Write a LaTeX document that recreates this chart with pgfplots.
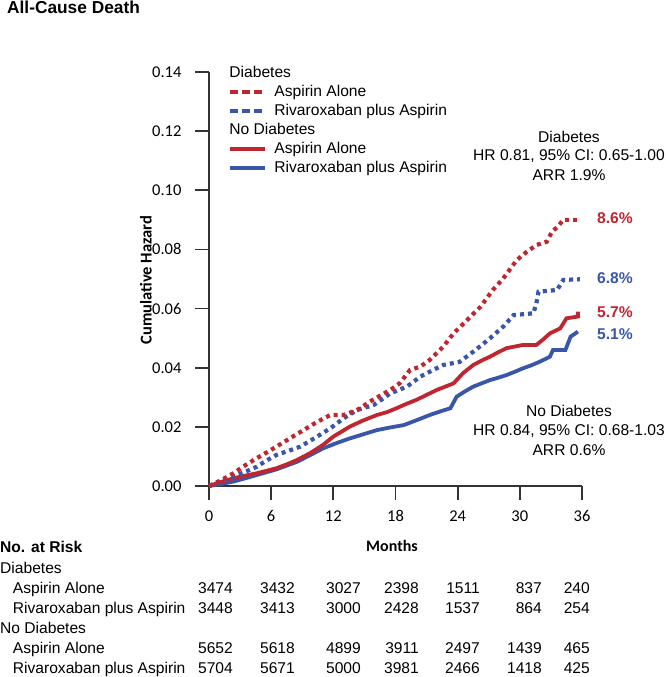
\documentclass[border=0pt]{standalone}
\usepackage{fontspec}
\setmainfont{Liberation Sans}
\newfontfamily\carlito{Carlito}
\usepackage{pgfplots}
\pgfplotsset{compat=1.18}
\usetikzlibrary{calc}
\definecolor{asared}{HTML}{BF2630}
\definecolor{rivblue}{HTML}{3A56AA}
\definecolor{axisgray}{HTML}{333333}
\newcommand{\txt}{\fontsize{15.6}{18}\selectfont}
\newcommand{\tck}{\carlito\fontsize{16.5}{18}\selectfont}

\begin{document}
\begin{tikzpicture}
\begin{axis}[
    scale only axis,
    width=373pt, height=414pt,
    xmin=0, xmax=36, ymin=0, ymax=0.14,
    axis lines=left,
    axis line style={-, axisgray, line width=1.8pt},
    xtick={0,6,12,18,24,30,36},
    ytick={0,0.02,0.04,0.06,0.08,0.10,0.12,0.14},
    tick align=outside,
    major tick length=14pt,
    tick style={axisgray, line width=1.8pt},
    scaled y ticks=false,
    tick label style={font=\tck},
    yticklabel style={xshift=-10pt, /pgf/number format/.cd, fixed, fixed zerofill,
        precision=2, assume math mode=true},
    xticklabel style={yshift=-7pt, /pgf/number format/assume math mode=true},
    clip=false,
    legend cell align=left,
    legend image code/.code={\draw[#1] (0pt,0pt) -- (35pt,0pt);},
    legend style={at={(axis cs:1.83,0.1429)}, anchor=north west,
        draw=none, fill=none, inner sep=0pt, row sep=0pt, column sep=7pt,
        font=\txt, nodes={inner sep=1pt, text height=13pt, text depth=4pt}},
]
\coordinate (O) at (axis cs:0,0);

% legend entries
\addlegendimage{empty legend}
\addlegendentry{\hspace*{-45pt}Diabetes}
\addlegendimage{asared, line width=3.3pt, dash pattern=on 8.5pt off 3.5pt}
\addlegendentry{Aspirin Alone}
\addlegendimage{rivblue, line width=3.3pt, dash pattern=on 8.5pt off 3.5pt}
\addlegendentry{Rivaroxaban plus Aspirin}
\addlegendimage{empty legend}
\addlegendentry{\hspace*{-45pt}No Diabetes}
\addlegendimage{asared, line width=3.3pt}
\addlegendentry{Aspirin Alone}
\addlegendimage{rivblue, line width=3.3pt}
\addlegendentry{Rivaroxaban plus Aspirin}

% no diabetes, rivaroxaban plus aspirin
\addplot[forget plot, rivblue, line width=3.8pt] coordinates {
(0,0) (1.2,0.0007) (2.35,0.0015) (3.5,0.0026) (4.6,0.0037) (5.5,0.0046)
(6.5,0.0056) (7.5,0.0069) (8.5,0.0082) (9.8,0.0105) (11.0,0.0127)
(12.3,0.0145) (13.6,0.0161) (14.9,0.0175) (16.2,0.0189) (17.5,0.0198)
(18.8,0.0206) (20.0,0.0222) (21.3,0.0240) (22.3,0.0252) (23.3,0.0263)
(23.9,0.0302) (24.7,0.0320) (25.5,0.0336) (26.3,0.0347) (27.1,0.0358)
(27.9,0.0366) (28.7,0.0375) (29.5,0.0386) (30.3,0.0398) (31.1,0.0408)
(31.9,0.0420) (32.9,0.0437) (33.2,0.0460) (34.4,0.0460) (34.9,0.0505)
(35.6,0.0522)
};
% no diabetes, aspirin alone
\addplot[forget plot, asared, line width=3.8pt] coordinates {
(0,0) (1.2,0.0014) (2.35,0.0026) (3.5,0.0035) (4.6,0.0043) (5.5,0.0051)
(6.5,0.0060) (7.5,0.0073) (8.5,0.0088) (9.8,0.0112) (11.0,0.0139)
(12.0,0.0167) (13.6,0.0201) (14.9,0.0222) (16.2,0.0240) (17.2,0.0250)
(18.1,0.0263) (19.0,0.0277) (20.0,0.0291) (21.0,0.0308) (22.0,0.0325)
(23.6,0.0347) (24.5,0.0381) (25.5,0.0409) (26.3,0.0424) (27.1,0.0437)
(27.9,0.0452) (28.7,0.0466) (30.3,0.0477) (31.6,0.0477) (32.3,0.0497)
(32.9,0.0516) (33.9,0.0533) (34.5,0.0567) (35.6,0.0573) (35.6,0.0590)
};
% diabetes, rivaroxaban plus aspirin
\addplot[forget plot, rivblue, line width=4.2pt, dash pattern=on 4pt off 4pt] coordinates {
(0,0) (1.2,0.0015) (2.35,0.0032) (3.5,0.0048) (4.6,0.0065) (5.5,0.0085)
(6.5,0.0105) (7.6,0.0118) (8.8,0.0133) (10.2,0.0162) (11.7,0.0195)
(13.0,0.0229) (14.3,0.0257) (15.9,0.0274) (17.5,0.0313) (19.1,0.0336)
(20.4,0.0370) (21.5,0.0390) (22.6,0.0409) (24.2,0.0420) (25.5,0.0454)
(26.3,0.0476) (27.1,0.0499) (28.4,0.0539) (29.4,0.0578) (31.3,0.0584)
(31.6,0.0618) (31.8,0.0657) (33.6,0.0663) (34.2,0.0697) (35.8,0.0699)
};
% diabetes, aspirin alone
\addplot[forget plot, asared, line width=4.2pt, dash pattern=on 4pt off 4pt] coordinates {
(0,0) (1.2,0.0020) (2.35,0.0043) (3.5,0.0070) (4.6,0.0094) (5.5,0.0112)
(6.5,0.0133) (7.8,0.0161) (9.4,0.0195) (10.5,0.0218) (11.7,0.0240)
(13.0,0.0240) (14.3,0.0257) (15.5,0.0285) (16.5,0.0305) (17.5,0.0325)
(18.4,0.0347) (19.4,0.0392) (20.4,0.0404) (21.3,0.0426) (22.6,0.0471)
(23.6,0.0516) (24.9,0.0561) (26.2,0.0606) (27.4,0.0663) (28.4,0.0702)
(29.7,0.0764) (30.6,0.0790) (31.6,0.0815) (32.6,0.0826) (33.1,0.0860)
(33.6,0.0875) (34.2,0.0900) (35.8,0.0900)
};
\end{axis}

\begin{scope}[shift={($(O)+(-209pt,486pt)$)}, x=1pt, y=-1pt]
\pgfresetboundingbox
\path[use as bounding box] (0,0) rectangle (666,677);

\node[anchor=base west, inner sep=0pt, font=\bfseries\fontsize{17.3}{18}\selectfont]
    at (7,13.5) {All-Cause Death};
\node[rotate=90, inner sep=0pt, font=\carlito\bfseries\fontsize{16.5}{18}\selectfont]
    at (146,280) {Cumulative Hazard};
\node[inner sep=0pt, font=\carlito\bfseries\fontsize{16}{18}\selectfont]
    at (392,546) {Months};

\begin{scope}[every node/.style={inner sep=0pt, font=\txt, anchor=base}]
\node at (569,142.6) {Diabetes};
\node at (569,160.6) {HR 0.81, 95\% CI: 0.65-1.00};
\node at (569,180.6) {ARR 1.9\%};
\node at (569,416.6) {No Diabetes};
\node at (569,435.6) {HR 0.84, 95\% CI: 0.68-1.03};
\node at (569,455.6) {ARR 0.6\%};
\end{scope}

\begin{scope}[every node/.style={inner sep=0pt, font=\txt\bfseries, anchor=base west}]
\node[asared] at (597,223.6) {8.6\%};
\node[rivblue] at (597,283.6) {6.8\%};
\node[asared] at (597,317.6) {5.7\%};
\node[rivblue] at (597,339.6) {5.1\%};
\end{scope}

% number at risk
\begin{scope}[every node/.style={inner sep=0pt, font=\txt, anchor=base west}]
\node[font=\txt\bfseries] at (0,552.6) {No. at Risk};
\node at (0,573.6) {Diabetes};
\node at (12.7,593.6) {Aspirin Alone};
\node at (12.7,613.6) {Rivaroxaban plus Aspirin};
\node at (0,633.6) {No Diabetes};
\node at (12.7,653.6) {Aspirin Alone};
\node at (12.7,673.6) {Rivaroxaban plus Aspirin};
\end{scope}
\begin{scope}[every node/.style={inner sep=0pt, font=\txt, anchor=base east}]
\foreach \x/\a/\b/\c/\d in {233/3474/3448/5652/5704, 295/3432/3413/5618/5671,
    361/3027/3000/4899/5000, 419/2398/2428/3911/3981, 480/1511/1537/2497/2466,
    542/837/864/1439/1418, 590/240/254/465/425} {
  \node at (\x,593.6) {\a};
  \node at (\x,613.6) {\b};
  \node at (\x,653.6) {\c};
  \node at (\x,673.6) {\d};
}
\end{scope}
\end{scope}
\end{tikzpicture}
\end{document}
